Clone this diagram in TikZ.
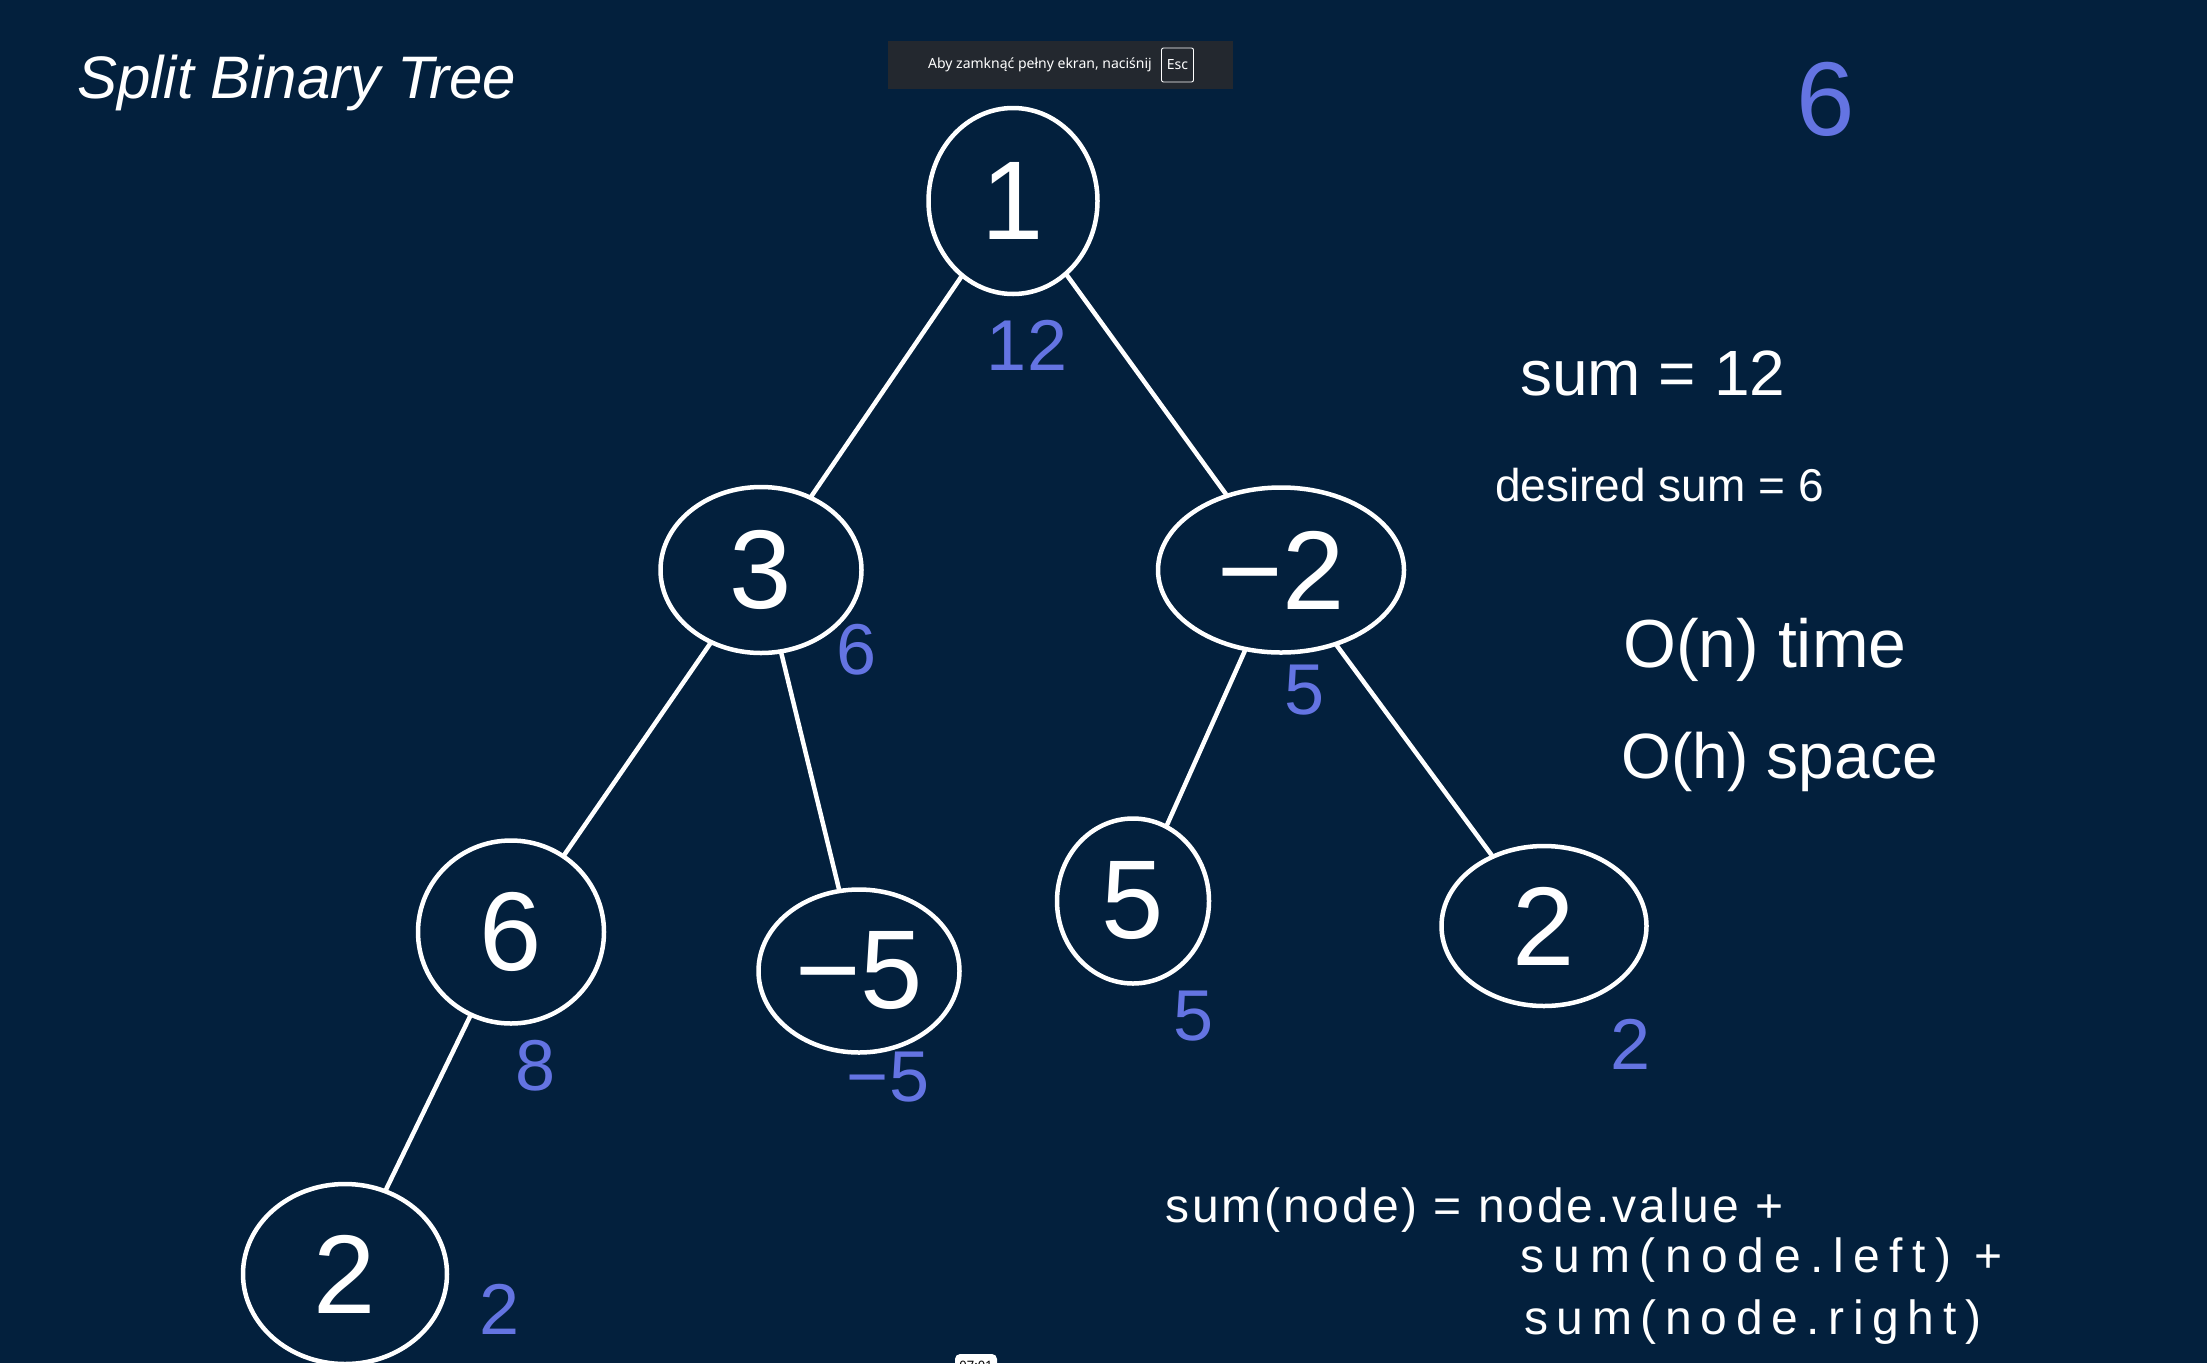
\documentclass[tikz,border=0pt]{standalone}
\usepackage{fontspec}
\setmainfont{Liberation Sans}
\newfontfamily\uifont{Noto Sans}
\usetikzlibrary{shapes.geometric}

\definecolor{BoardBg}{HTML}{03203D}
\definecolor{PenBlue}{HTML}{6474E2}
\definecolor{BannerGray}{HTML}{23282F}

\tikzset{
T/.style={draw=white, ellipse, inner sep=0pt, line width=4.5pt,
        text=white, font=\fontsize{112}{112}\selectfont},
S/.style={text=PenBlue, inner sep=0pt, font=\fontsize{72}{72}\selectfont},
TreeLineLayer/.style={draw=white, line width=4.5pt, line cap=round},
NoteText/.style={text=white, inner sep=0pt, anchor=west, font=\fontsize{64}{64}\selectfont},
FormulaText/.style={text=white, inner sep=0pt, anchor=west, font=\fontsize{48}{48}\selectfont},
TitleText/.style={text=white, inner sep=0pt, anchor=base west, font=\fontsize{60}{60}\selectfont\itshape},
}

\begin{document}
\begin{tikzpicture}[x=1pt,y=-1pt]
	\fill[BoardBg] (0,0) rectangle (2207,1363);
	\useasboundingbox (0,0) rectangle (2207,1363);

	\node[TitleText] (title) at (77,98) {Split Binary Tree};

	% fullscreen banner
	\node[fill=BannerGray, minimum width=345pt, minimum height=48pt, inner sep=0pt] (banner) at (1060.5,65) {};
	\node[text=white, inner sep=0pt, anchor=east, font=\uifont\fontsize{14}{14}\selectfont] (bannertext) at (1152,65) {Aby zamknąć pełny ekran, naciśnij};
	\node[draw=white, rounded corners=2pt, line width=0.9pt, minimum width=32pt, minimum height=34pt, inner sep=0pt,
		text=white, font=\uifont\fontsize{14}{14}\selectfont] (esc) at (1177.5,65) {Esc};
	\node[fill=white, rounded corners=5pt, minimum width=42pt, minimum height=24pt, inner sep=0pt,
		text=black, font=\uifont\fontsize{13}{13}\selectfont] (clock) at (976,1366) {07:01};

	% tree
	\foreach \name/\x/\y/\w/\h/\val in {R/1013/201/169/186/1, A/761/570/201/166/3, B/1281/570/246/165/−2,
		C/511/932/186/183/6, D/859/971/201/163/−5, E/1133/901/152/165/5, F/1544/926/205/160/2, G/345/1274/204/180/2}
		\node[T, minimum width=\w pt, minimum height=\h pt] (\name) at (\x,\y) {\val};
	\foreach \a/\b in {R/A, R/B, A/C, A/D, B/E, B/F, C/G}
		\draw[TreeLineLayer] (\a) -- (\b);

	% subtree sums
	\foreach \name/\x/\y/\val in {sR/1027/345/12, sA/857/650/6, sB/1305/690/5, sC/536/1066/8,
		sD/888/1077/−5, sE/1194/1016/5, sF/1630/1044/2, sG/500/1309/2}
		\node[S] (\name) at (\x,\y) {\val};
	\node[S, font=\fontsize{105}{105}\selectfont] (best) at (1826,99) {6};

	% notes
	\node[NoteText] (total) at (1520,373) {sum = 12};
	\node[NoteText, font=\fontsize{46}{46}\selectfont] (desired) at (1495,485) {desired sum = 6};
	\node[NoteText, font=\fontsize{68}{68}\selectfont] (time) at (1623,650) {O(n) time};
	\node[NoteText] (space) at (1621,762) {O(h) space};
	\node[FormulaText, font=\fontsize{48}{48}\selectfont\addfontfeatures{LetterSpace=6}] (f1) at (1165,1210) {sum(node) = node.value +};
	\node[FormulaText, font=\fontsize{48}{48}\selectfont\addfontfeatures{LetterSpace=20}] (f2) at (1520,1260) {sum(node.left) +};
	\node[FormulaText, font=\fontsize{48}{48}\selectfont\addfontfeatures{LetterSpace=18}] (f3) at (1524,1322) {sum(node.right)};
\end{tikzpicture}
\end{document}
